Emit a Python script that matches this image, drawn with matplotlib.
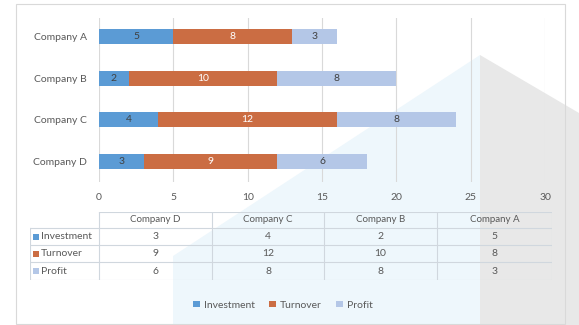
import numpy as np
import matplotlib.pyplot as plt
from matplotlib.patches import Polygon, Rectangle

companies = ['Company A', 'Company B', 'Company C', 'Company D']
investment = [5, 2, 4, 3]
turnover = [8, 10, 12, 9]
profit = [3, 8, 8, 6]
series_names = ['Investment', 'Turnover', 'Profit']
colors = ['#5B9BD5', '#CB6D43', '#B4C7E7']
label_colors = ['#404040', 'white', '#404040']
xticks = [0, 5, 10, 15, 20, 25, 30]

W, H = 579, 325
plt.rcParams['font.family'] = ['Lato', 'DejaVu Sans']
fig = plt.figure(figsize=(W / 100, H / 100), dpi=100)
fig.patch.set_facecolor('white')

def fx(px):
    return px / W

def fy(py):
    return 1 - py / H

# watermark shapes in the background
fig.patches.append(Polygon([(fx(480), fy(55)), (fx(173), fy(256)), (fx(173), fy(325)),
                            (fx(480), fy(325))], closed=True, transform=fig.transFigure,
                           facecolor='#EEF7FC', edgecolor='none', zorder=-5))
fig.patches.append(Polygon([(fx(480), fy(55)), (fx(579), fy(113)), (fx(579), fy(325)),
                            (fx(480), fy(325))], closed=True, transform=fig.transFigure,
                           facecolor='#E8E8E8', edgecolor='none', zorder=-5))
# chart frame
fig.patches.append(Rectangle((fx(16), fy(324)), fx(565 - 16), (324 - 4) / H,
                             transform=fig.transFigure, facecolor='none',
                             edgecolor='#D9D9D9', lw=0.8, zorder=-4))

# bar chart
ax = fig.add_axes([fx(99), fy(182), fx(545 - 99), (182 - 18) / H], zorder=2)
ax.patch.set_alpha(0)
y = np.arange(len(companies))
left = np.zeros(len(companies))
for name, vals, c, lc in zip(series_names, [investment, turnover, profit], colors, label_colors):
    bars = ax.barh(y, vals, left=left, height=0.37, color=c, label=name, zorder=3)
    ax.bar_label(bars, labels=[str(v) for v in vals], label_type='center',
                 color=lc, fontsize=7.5)
    left += np.array(vals)

ax.set_xlim(0, 30)
ax.set_ylim(3.5, -0.45)
ax.set_xticks(xticks)
ax.set_yticks(y)
ax.set_yticklabels(companies)
ax.grid(axis='x', color='#D9D9D9', lw=0.8, zorder=0)
for s in ax.spines.values():
    s.set_visible(False)
ax.tick_params(length=0, labelsize=7.5, colors='#595959', pad=8)
ax.tick_params(axis='y', pad=9)

# data table below the chart
tab = fig.add_axes([fx(30), fy(280), fx(552 - 30), (280 - 212) / H], zorder=2)
tab.patch.set_alpha(0)
tab.set_xlim(30, 552)
tab.set_ylim(280, 212)
tab.axis('off')
col_edges = [99, 212, 324, 437, 552]
row_edges = [212, 228, 245, 262, 280]
table_cols = companies[::-1]
table_rows = [investment[::-1], turnover[::-1], profit[::-1]]
lc = '#D0D7DE'
for xe in col_edges:
    tab.plot([xe, xe], [212, 280], color=lc, lw=0.8)
tab.plot([30, 30], [228, 280], color=lc, lw=0.8)
tab.plot([99, 552], [212, 212], color=lc, lw=0.8)
for ye in row_edges[1:]:
    tab.plot([30, 552], [ye, ye], color=lc, lw=0.8)
for j, cname in enumerate(table_cols):
    xc = (col_edges[j] + col_edges[j + 1]) / 2
    tab.text(xc, (row_edges[0] + row_edges[1]) / 2, cname, ha='center', va='center',
             fontsize=7, color='#595959')
for i, (name, vals) in enumerate(zip(series_names, table_rows)):
    yc = (row_edges[i + 1] + row_edges[i + 2]) / 2
    tab.add_patch(Rectangle((33, yc - 3), 6, 6, facecolor=colors[i], edgecolor='none'))
    tab.text(41, yc, name, ha='left', va='center', fontsize=7.5, color='#595959')
    for j, v in enumerate(vals):
        xc = (col_edges[j] + col_edges[j + 1]) / 2
        tab.text(xc, yc, str(v), ha='center', va='center', fontsize=7.5, color='#595959')

# legend
handles, labels = ax.get_legend_handles_labels()
fig.legend(handles, labels, loc='center', bbox_to_anchor=(fx(283), fy(305)), ncol=3,
           frameon=False, fontsize=7.5, handlelength=0.6, handleheight=0.6,
           handletextpad=0.4, columnspacing=1.4, labelcolor='#595959')

fig.savefig('out.png', dpi=100)
